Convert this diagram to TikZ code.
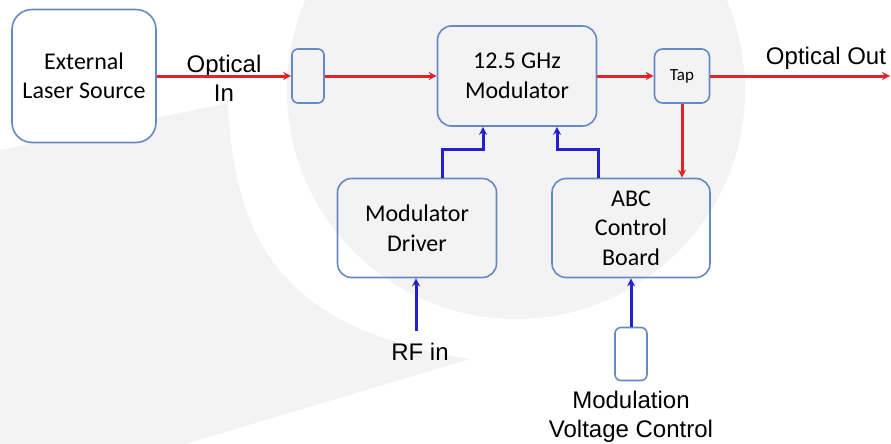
\documentclass[tikz,border=0pt]{standalone}
\usepackage{fontspec}
\setmainfont{Carlito}
\newfontfamily\labelfont{Liberation Sans}
\usetikzlibrary{arrows.meta}
\definecolor{boxblue}{RGB}{100,138,198}
\definecolor{optred}{RGB}{228,32,40}
\definecolor{elecblue}{RGB}{35,35,205}
\definecolor{bggray}{RGB}{243,243,243}

\begin{document}
\begin{tikzpicture}[x=1pt,y=-1pt,
  block/.style={draw=boxblue, line width=1.6pt, rounded corners=14pt, align=center,
    inner sep=0pt, font=\fontsize{24}{29.5}\selectfont},
  optic/.style={optred, line width=3pt, -{Stealth[length=8pt,width=8pt]}},
  elec/.style={elecblue, line width=3pt, -{Stealth[length=8pt,width=8pt]}},
  lbl/.style={font=\labelfont\fontsize{24}{29}\selectfont, align=center, inner sep=0pt}]
  \useasboundingbox (0,0) rectangle (891,444);
  % background shapes
  \fill[bggray] (516,90) circle (229pt);
  \fill[bggray] (0,150) -- (228,103) .. controls (234,250) and (290,330) .. (470,359)
    -- (185,444) -- (0,444) -- cycle;

  % optical path
  \node[block, fill=white, minimum width=144pt, minimum height=133pt, rounded corners=20pt]
    (laser) at (84,76) {External\\Laser Source};
  \node[block, minimum width=32pt, minimum height=54pt, rounded corners=6pt] (iso) at (308,76) {};
  \node[block, minimum width=159pt, minimum height=100pt] (mod) at (517,76) {12.5 GHz\\Modulator};
  \node[block, minimum width=55pt, minimum height=54pt, rounded corners=8pt,
    font=\fontsize{17}{20}\selectfont] (tap) at (682,76) {Tap};
  % electrical side
  \node[block, minimum width=159pt, minimum height=99pt] (driver) at (417,228) {Modulator\\Driver};
  \node[block, minimum width=158pt, minimum height=99pt] (abc) at (631,228) {ABC\\Control\\Board};
  \node[block, minimum width=32pt, minimum height=53pt, rounded corners=6pt] (vbox) at (631,354) {};

  % labels
  \node[lbl, anchor=north] (optin) at (224,55) {Optical\\In};
  \node[lbl, anchor=base] (optout) at (826,65) {Optical Out};
  \node[lbl, anchor=base] (rfin) at (420,360) {RF in};
  \node[lbl, anchor=north] (vctrl) at (631,391) {Modulation\\Voltage Control};
  \coordinate (out) at (890,76);
  \coordinate (rf) at (416,331);

  \draw[optic] (laser) -- (iso);
  \draw[optic] (iso) -- (mod);
  \draw[optic] (mod) -- (tap);
  \draw[optic] (tap) -- (out);
  \draw[optic] (tap.south) -- (tap.south |- abc.north);

  \draw[elec] ([xshift=25pt]driver.north) -- ++(0,-28) -| ([xshift=-34pt]mod.south);
  \draw[elec] ([xshift=-33pt]abc.north) -- ++(0,-28) -| ([xshift=40pt]mod.south);
  \draw[elec] (rf) -- (rf |- driver.south);
  \draw[elec] (vbox) -- (abc);
\end{tikzpicture}
\end{document}
